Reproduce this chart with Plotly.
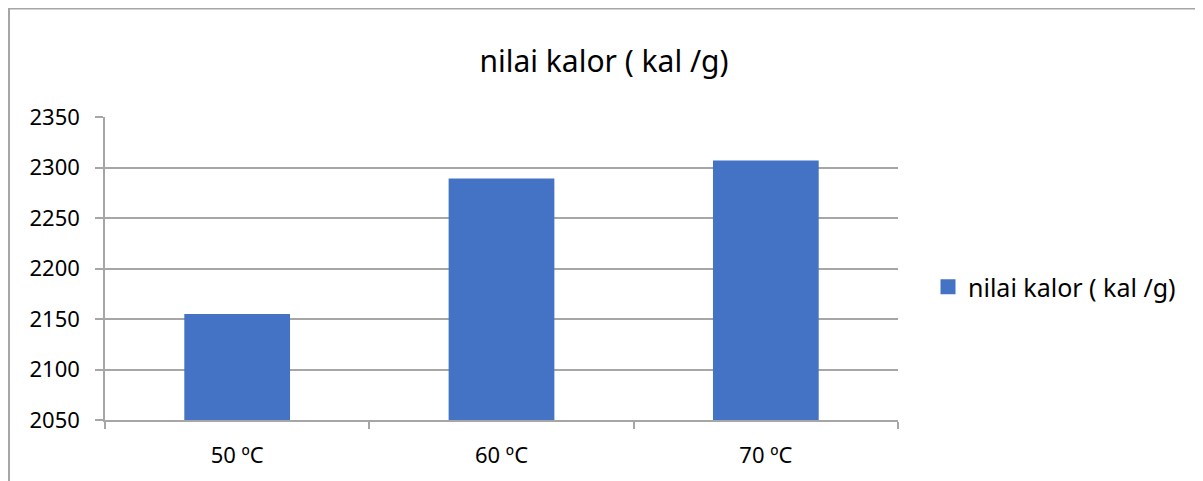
import plotly.graph_objects as go

categories = ["50 ºC", "60 ºC", "70 ºC"]
values = [2155, 2289, 2307]
series_name = "nilai kalor ( kal /g)"
y_ticks = [2050, 2100, 2150, 2200, 2250, 2300, 2350]

FONT = "Noto Sans"
BAR = "#4472C4"
GRID = "#a6a6a6"

# page body has an 8px margin; lay out in figure coordinates accordingly
OFF = 8
W, H = 1203 - OFF, 481 - OFF
PL, PR, PT, PB = 105 - OFF, 898 - OFF, 117 - OFF, 420 - OFF
PW, PH = PR - PL, PB - PT

fig = go.Figure()
fig.add_trace(go.Bar(x=categories, y=values, name=series_name,
                     marker=dict(color=BAR, line=dict(width=0)),
                     showlegend=False))
# legend entry with a square symbol
fig.add_trace(go.Scatter(x=[None], y=[None], mode="markers", name=series_name,
                         marker=dict(symbol="square", size=15, color=BAR)))

fig.update_layout(
    width=W, height=H,
    margin=dict(l=PL, r=W - PR, t=PT, b=H - PB, pad=0),
    paper_bgcolor="white", plot_bgcolor="white",
    font=dict(family=FONT, color="#000000", size=22),
    title=dict(text=series_name, x=(604 - OFF) / W, xanchor="center",
               y=1 - (61 - OFF) / H, yanchor="middle",
               font=dict(family=FONT, size=30, color="#000000")),
    bargap=0.6,
    legend=dict(x=(928 - OFF - PL) / PW, xanchor="left",
                y=1 - (287 - OFF - PT) / PH, yanchor="middle",
                font=dict(family=FONT, size=25), itemwidth=30,
                bgcolor="rgba(0,0,0,0)"),
    showlegend=True,
)
fig.update_xaxes(showgrid=False, showline=True, linecolor=GRID, linewidth=1.5,
                 ticks="outside", tickson="boundaries", ticklen=7, tickcolor=GRID,
                 tickwidth=1.5, tickfont=dict(family=FONT, size=22),
                 ticklabelstandoff=15, fixedrange=True)
fig.update_yaxes(range=[2050, 2350], tickvals=y_ticks, showgrid=True, gridcolor=GRID,
                 gridwidth=1.5, showline=True, linecolor=GRID, linewidth=1.5,
                 ticks="outside", ticklen=8, tickcolor=GRID, tickwidth=1.5,
                 tickfont=dict(family=FONT, size=22), ticklabelstandoff=11,
                 zeroline=False, fixedrange=True)

# outer chart frame
fig.add_shape(type="rect", xref="paper", yref="paper",
              x0=(9 - OFF - PL) / PW, x1=(1200 - OFF - PL) / PW,
              y0=-(H - PB + 20) / PH, y1=1 + (PT - 0.5) / PH,
              line=dict(color=GRID, width=2), fillcolor="rgba(0,0,0,0)", layer="below")

fig.write_html("out.html")
